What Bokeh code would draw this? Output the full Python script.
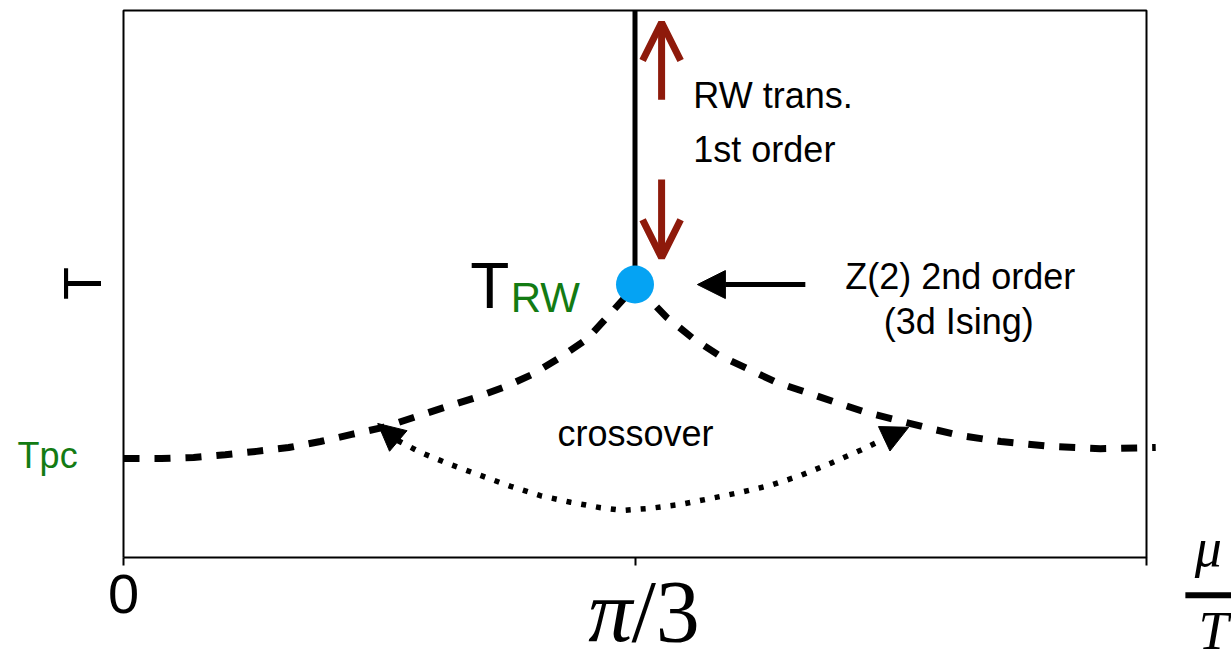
from bokeh.plotting import figure
from bokeh.models import Range1d, FixedTicker, Label, Arrow, OpenHead, NormalHead, LinearAxis
from bokeh.embed import file_html
from bokeh.resources import INLINE
from math import pi

# Schematic Roberge-Weiss phase diagram.
# x: mu/T in units of pi/3, y: temperature (arbitrary units)
x_ticks = [0, 1, 2]
tick_labels = {0: "0", 1: "", 2: ""}

T_RW = 0.499          # Roberge-Weiss endpoint temperature
mu_RW = 1.0           # mu/T = pi/3
T_PC = 0.181          # pseudo-critical temperature at mu = 0

# second-order / crossover boundary, left branch (mu/T from 0 to pi/3)
left_mu = [0.000, 0.074, 0.137, 0.199, 0.260, 0.323, 0.385, 0.446, 0.508, 0.567,
           0.626, 0.684, 0.743, 0.800, 0.854, 0.907, 0.948, 0.978, 1.000]
left_T = [0.181, 0.181, 0.183, 0.188, 0.194, 0.201, 0.212, 0.225, 0.238, 0.256,
          0.274, 0.291, 0.311, 0.335, 0.366, 0.400, 0.442, 0.473, 0.499]

# right branch (mu/T from pi/3 to 2pi/3)
right_mu = [1.000, 1.025, 1.062, 1.114, 1.165, 1.218, 1.277, 1.335, 1.394, 1.453,
            1.517, 1.576, 1.636, 1.715, 1.812, 1.910, 2.018]
right_T = [0.499, 0.475, 0.439, 0.400, 0.369, 0.346, 0.320, 0.302, 0.283, 0.265,
           0.250, 0.236, 0.223, 0.212, 0.203, 0.199, 0.201]

# crossover indicator (double-headed dotted arrow), tip to tip
cross_mu = [0.497, 0.536, 0.581, 0.639, 0.698, 0.757, 0.815, 0.874, 0.933, 0.976,
            1.030, 1.089, 1.148, 1.206, 1.265, 1.324, 1.382, 1.441, 1.494, 1.535]
cross_T = [0.245, 0.214, 0.192, 0.170, 0.150, 0.130, 0.113, 0.101, 0.091, 0.086,
           0.090, 0.097, 0.108, 0.119, 0.132, 0.150, 0.172, 0.196, 0.220, 0.238]

# plot box: mu/T in [0, 2pi/3], T in [0, 1]
box_x = [0, 2, 2, 0, 0]
box_y = [0, 0, 1, 1, 0]

SANS = "Liberation Sans"
SERIF = "Liberation Serif"
GREEN = "#137b13"
RED = "#8e1a0b"
BLUE = "#05a3f3"

W, H = 1231, 660
X0, PX_X = 123, 511.5      # canvas pixel of mu=0, pixels per unit
Y0, PX_Y = 557, 547        # canvas pixel of T=0, pixels per unit

p = figure(width=W, height=H,
           x_range=Range1d(-X0 / PX_X, (W - X0) / PX_X),
           y_range=Range1d((Y0 - H) / PX_Y, Y0 / PX_Y),
           x_axis_location=None, y_axis_location=None,
           output_backend="svg", toolbar_location=None,
           min_border=0)
p.grid.visible = False
p.background_fill_color = "white"
p.border_fill_color = "white"
p.outline_line_color = None

# mu/T axis drawn along T = 0
xa = LinearAxis(fixed_location=0, bounds=(0, 2), ticker=FixedTicker(ticks=x_ticks),
                major_label_overrides=tick_labels)
xa.axis_line_color = None
xa.major_tick_in = 0
xa.major_tick_out = 8
xa.major_tick_line_width = 2
xa.major_tick_line_color = "black"
xa.minor_tick_line_color = None
xa.major_label_text_font = SANS
xa.major_label_text_font_size = "56px"
xa.major_label_text_color = "black"
xa.major_label_standoff = 9
p.add_layout(xa, "below")

p.line(box_x, box_y, line_color="black", line_width=2)

# first-order RW transition line above T_RW
p.line([mu_RW, mu_RW], [T_RW, 1.0], line_color="black", line_width=5)

# dashed boundaries
p.line(left_mu, left_T, line_color="black", line_width=7, line_dash="16 15")
p.line(right_mu, right_T, line_color="black", line_width=7, line_dash="16 15")

# dotted crossover arrow with heads at both ends
p.line(cross_mu[1:-1], cross_T[1:-1], line_color="black", line_width=5.5, line_dash="5 10")
for a, b in ((1, 0), (-2, -1)):
    p.add_layout(Arrow(end=NormalHead(size=27, fill_color="black", line_color="black", line_width=1),
                       x_start=cross_mu[a], y_start=cross_T[a],
                       x_end=cross_mu[b], y_end=cross_T[b], line_alpha=0))

# RW endpoint
p.scatter([mu_RW], [T_RW], marker="circle", size=38, fill_color=BLUE, line_color=None)

# red arrows along the first-order line
p.add_layout(Arrow(end=OpenHead(size=38, line_color=RED, line_width=7),
                   x_start=1.052, y_start=0.837, x_end=1.052, y_end=0.978,
                   line_color=RED, line_width=7))
p.add_layout(Arrow(end=OpenHead(size=38, line_color=RED, line_width=7),
                   x_start=1.052, y_start=0.691, x_end=1.052, y_end=0.548,
                   line_color=RED, line_width=7))

# arrow pointing at the endpoint
p.add_layout(Arrow(end=NormalHead(size=28, fill_color="black", line_color="black", line_width=1),
                   x_start=1.333, y_start=T_RW, x_end=1.122, y_end=T_RW,
                   line_color="black", line_width=5))


def lab(x, y, text, size, color="black", font=SANS, style="normal", align="left", angle=0.0):
    # raise the text so that y is its baseline
    lift = 0.36 * size
    if angle == 0.0:
        y = y + lift / PX_Y
    else:
        x = x - lift / PX_X
    p.add_layout(Label(x=x, y=y, text=text, text_font=font, text_font_size=f"{size}px",
                       text_font_style=style, text_color=color, text_align=align,
                       text_baseline="alphabetic", angle=angle))


lab(1.114, 0.821, "RW trans.", 36)
lab(1.114, 0.722, "1st order", 36)
lab(1.636, 0.490, "Z(2) 2nd order", 36, align="center")
lab(1.633, 0.408, "(3d Ising)", 36, align="center")
lab(1.001, 0.203, "crossover", 36, align="center")
lab(0.678, 0.455, "T", 64)
lab(0.757, 0.448, "RW", 42, color=GREEN)
lab(-0.207, 0.163, "Tpc", 36, color=GREEN)

# axis titles
lab(-0.043, 0.501, "T", 54, align="center", angle=pi / 2)
lab(0.995, -0.157, "π", 88, font=SERIF, style="italic", align="right")
lab(0.993, -0.157, "/3", 88, font=SERIF, align="left")
lab(2.121, -0.018, "μ", 54, font=SERIF, style="italic", align="center")
p.add_layout(Arrow(end=None, x_start=2.076, y_start=-0.069, x_end=2.170, y_end=-0.069,
                   line_color="black", line_width=6))
lab(2.131, -0.170, "T", 54, font=SERIF, style="italic", align="center")

open("out.html", "w").write(file_html(p, INLINE))
